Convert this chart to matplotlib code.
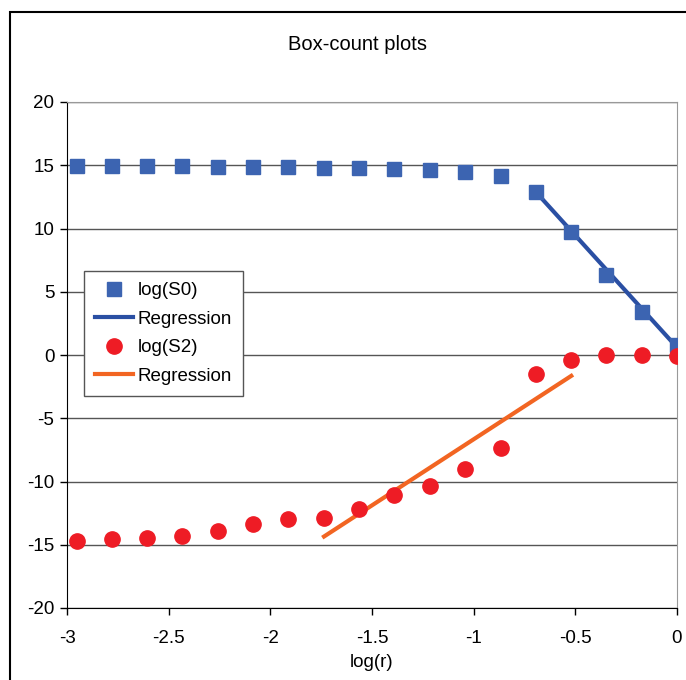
import matplotlib
matplotlib.use("Agg")
from matplotlib import pyplot as plt
from matplotlib.patches import Rectangle

plt.rcParams['font.family'] = ['Liberation Sans', 'DejaVu Sans']
plt.rcParams['axes.unicode_minus'] = False

# log(r) values shared by both series
log_r = [-2.953, -2.779, -2.605, -2.432, -2.258, -2.084, -1.911, -1.737, -1.563,
         -1.390, -1.216, -1.042, -0.868, -0.695, -0.521, -0.347, -0.174, 0.0]

log_s0 = [14.92, 14.92, 14.92, 14.91, 14.9, 14.9, 14.83, 14.82, 14.8,
          14.7, 14.6, 14.49, 14.17, 12.87, 9.71, 6.35, 3.42, 0.79]
log_s2 = [-14.69, -14.55, -14.45, -14.34, -13.9, -13.38, -12.96, -12.85, -12.17,
          -11.1, -10.35, -9.0, -7.36, -1.53, -0.4, 0.0, 0.0, -0.08]

# regression line end points
reg0_x = [-0.695, 0.0]
reg0_y = [12.9, 0.6]
reg2_x = [-1.736, -0.52]
reg2_y = [-14.35, -1.65]

fig = plt.figure(figsize=(6.86, 6.80), dpi=100)
ax = fig.add_axes([67 / 686, 1 - 608 / 680, 610 / 686, 506 / 680])

ax.plot(log_r, log_s0, marker="s", linestyle="", markersize=10.5,
        color="#3c64b1", label="log(S0)", zorder=3)
ax.plot(reg0_x, reg0_y, color="#2a4fa3", linewidth=3, label="Regression", zorder=2)
ax.plot(log_r, log_s2, marker="o", linestyle="", markersize=11,
        color="#ee1c25", label="log(S2)", zorder=3)
ax.plot(reg2_x, reg2_y, color="#f26522", linewidth=3, label="Regression", zorder=2)

ax.set_xlim(-3, 0)
ax.set_ylim(-20, 20)
ax.set_xticks([-3, -2.5, -2, -1.5, -1, -0.5, 0])
ax.set_xticklabels(["-3", "-2.5", "-2", "-1.5", "-1", "-0.5", "0"])
ax.set_yticks(range(-20, 21, 5))
ax.tick_params(labelsize=13.5, direction="out", length=5, width=1, colors="black")
ax.tick_params(axis="x", pad=11)
ax.tick_params(axis="y", pad=4)
ax.grid(axis="y", color="#555555", linewidth=1)
ax.set_axisbelow(True)
for side in ["top", "right"]:
    ax.spines[side].set_color("#999999")
for side in ["left", "bottom"]:
    ax.spines[side].set_color("black")
ax.set_xlabel("log(r)", fontsize=13.5, labelpad=5)

leg = ax.legend(loc="upper left", bbox_to_anchor=(0.028, 0.666), fontsize=13.5,
                frameon=True, fancybox=False, edgecolor="#555555", framealpha=1,
                handlelength=2.0, handletextpad=0.25, labelspacing=0.6,
                borderpad=0.6, borderaxespad=0)
leg.get_frame().set_linewidth(1)

fig.text(358 / 686, 1 - 45 / 680, "Box-count plots", fontsize=14.5,
         ha="center", va="center")

fig.patches.append(Rectangle((10 / 686, -0.5), 2, 1.5 - 12 / 680, fill=False,
                             edgecolor="black", linewidth=1.5,
                             transform=fig.transFigure, figure=fig))

fig.savefig("out.png", dpi=100)
